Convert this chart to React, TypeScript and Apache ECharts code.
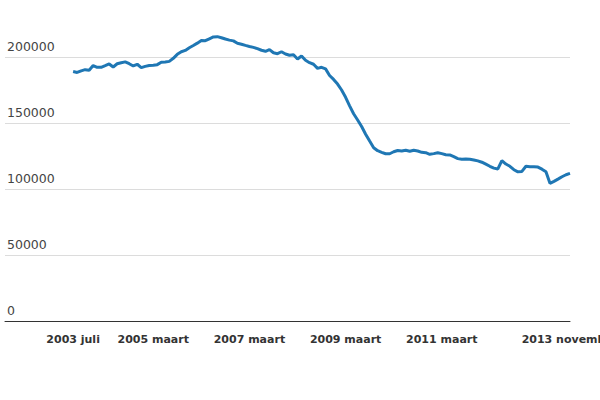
import React, { useRef, useEffect } from 'react';
import * as echarts from 'echarts';

// Dutch month names, used to build the monthly categories
const monthNames = [
  'januari', 'februari', 'maart', 'april', 'mei', 'juni',
  'juli', 'augustus', 'september', 'oktober', 'november', 'december',
];

// axis runs from feb 2002, the series starts at jul 2003 and ends nov 2013
const axisStart = { year: 2002, month: 1 };
const axisEnd = { year: 2013, month: 10 };

// labels shown under the x axis
const tickLabels = ['2003 juli', '2005 maart', '2007 maart', '2009 maart', '2011 maart', '2013 november'];

// months before the series begins (no data)
const leadingGap = 17;

// monthly values, jul 2003 - nov 2013
const values = [
  189000, 188300, 189500, 190400, 190000, 193500, 192200, 192200, 193400, 194700,
  192400, 194900, 195700, 196300, 194900, 193200, 194500, 191900, 192900, 193500,
  193800, 194200, 196000, 196200, 196700, 199000, 202000, 204000, 205000, 207000,
  208700, 210500, 212500, 212400, 213800, 215200, 215400, 214600, 213600, 212800,
  212200, 210400, 209700, 208800, 208000, 207300, 206300, 205100, 204300, 205600,
  203200, 202500, 204000, 202300, 201300, 201700, 198500, 200800, 197500, 195700,
  194500, 191400, 192200, 191000, 186000, 183000, 179500, 175000, 169500, 163000,
  157000, 152300, 147300, 141500, 136300, 131300, 129000, 127800, 126700, 126700,
  128200, 129200, 128800, 129400, 128600, 129300, 128800, 127800, 127500, 126300,
  126800, 127500, 126800, 126000, 125800, 124500, 123000, 122500, 122700, 122500,
  122000, 121300, 120300, 118800, 117200, 115800, 115200, 121500, 118900, 117200,
  114600, 113000, 113300, 117200, 116900, 116900, 116600, 115000, 113000, 104300,
  105800, 107500, 109300, 110800, 111800,
];

const yTicks = { min: 0, max: 250000, interval: 50000 };

function buildCategories(): string[] {
  const out: string[] = [];
  let y = axisStart.year;
  let m = axisStart.month;
  while (y < axisEnd.year || (y === axisEnd.year && m <= axisEnd.month)) {
    out.push(`${y} ${monthNames[m]}`);
    m++;
    if (m > 11) { m = 0; y++; }
  }
  return out;
}

export default function App() {
  const chartRef = useRef<HTMLDivElement>(null);

  useEffect(() => {
    if (!chartRef.current) return;
    const chart = echarts.init(chartRef.current, undefined, { renderer: 'svg' });
    const categories = buildCategories();
    const seriesData: (number | null)[] = [
      ...new Array(leadingGap).fill(null),
      ...values,
    ];

    const option: echarts.EChartsOption = {
      animation: false,
      backgroundColor: '#fff',
      textStyle: { fontFamily: 'DejaVu Sans' },
      // top edge sits above the page so that the 250000 line stays hidden
      grid: {
        left: 5, right: 30, top: -9, bottom: 79,
        containLabel: false,
        outerBoundsMode: 'none',
      } as any,
      xAxis: {
        type: 'category',
        data: categories,
        boundaryGap: false,
        axisLine: { lineStyle: { color: '#333', width: 1 } },
        axisTick: { show: false },
        axisLabel: {
          interval: (_i: number, value: string) => tickLabels.includes(value),
          fontSize: 11,
          fontWeight: 'bold',
          color: '#333',
          margin: 13,
        },
      },
      yAxis: {
        type: 'value',
        min: yTicks.min,
        max: yTicks.max,
        interval: yTicks.interval,
        axisLine: { show: false },
        axisTick: { show: false },
        splitLine: { lineStyle: { color: '#dcdcdc', width: 1 } },
        axisLabel: {
          inside: true,
          margin: 2,
          verticalAlign: 'bottom',
          padding: [0, 0, 4, 0],
          fontSize: 12.5,
          color: '#444',
          showMaxLabel: false,
          formatter: (v: number) => String(v),
        },
      },
      series: [
        {
          type: 'line',
          data: seriesData,
          showSymbol: false,
          lineStyle: { color: '#1f77b4', width: 3 },
          itemStyle: { color: '#1f77b4' },
          connectNulls: false,
        },
      ],
    };

    chart.setOption(option);
    return () => { chart.dispose(); };
  }, []);

  return (
    <div
      ref={chartRef}
      style={{ position: 'absolute', left: 0, top: 0, width: 600, height: 400 }}
    />
  );
}
